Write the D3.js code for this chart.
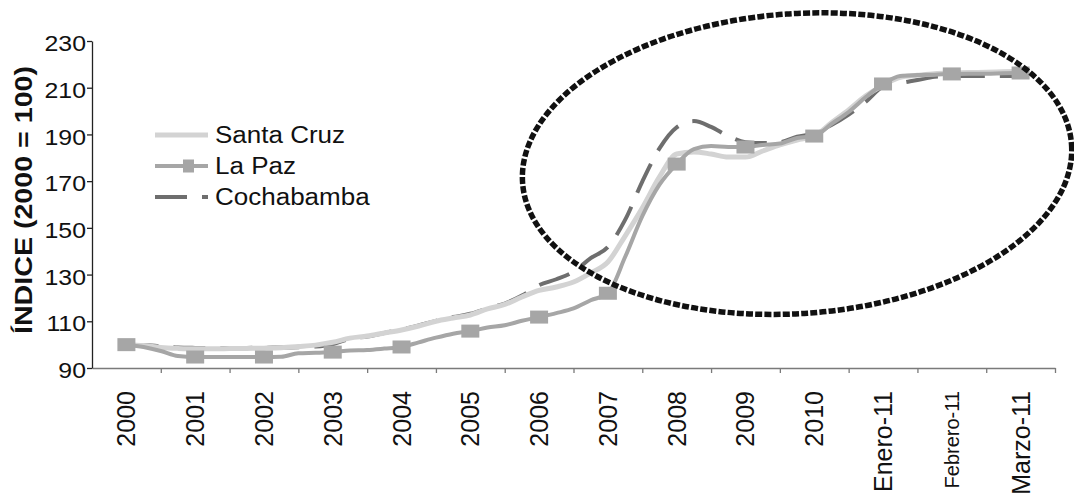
<!DOCTYPE html>
<html><head><meta charset="utf-8">
<script src="https://cdn.jsdelivr.net/npm/d3@7"></script>
<style>
body{margin:0;background:#fff}
svg{display:block;background:#fff}
text{font-family:"Liberation Sans",Arial,Helvetica,sans-serif;fill:#111}
</style>
</head><body>
<svg id="c" width="1074" height="503"></svg>
<script>
// ---------- DATA ----------
const categories = ["2000","2001","2002","2003","2004","2005","2006","2007","2008","2009","2010","Enero-11","Febrero-11","Marzo-11"];
const yTicks = [90,110,130,150,170,190,210,230];
const seriesNames = ["Santa Cruz","La Paz","Cochabamba"];
// positions along the category axis (quarter steps, category index units)
const steps = d3.range(0, 13.001, 0.25);
const santaCruz = [
  100, 99.6, 98.8, 98.4,
  98.2, 98.2, 98.3, 98.4,
  98.5, 98.7, 99.2, 99.8,
  101, 102.8, 103.7, 105,
  106.3, 108, 110, 111.4,
  112.7, 115.3, 117.2, 120.4,
  123.2, 124.7, 126.8, 130.7,
  135.4, 146.5, 158.5, 171.8,
  181.6, 182.5, 181.6, 180.3,
  180.3, 182.9, 185.5, 187.6,
  189.3, 195, 200.5, 206.5,
  211, 214.5, 215.3, 216,
  216.3, 216.5, 216.6, 216.8,
  217
];
const laPaz = [
  100, 99, 97.3, 95.1,
  94.7, 94.7, 94.7, 94.7,
  94.7, 94.8, 96.3, 96.5,
  96.8, 97.5, 97.7, 98.3,
  99, 101, 103, 104.7,
  105.8, 107.3, 108.3, 110.2,
  111.8, 113.5, 115.5, 119,
  122, 137.5, 155, 168.5,
  177.3, 183.7, 185, 184.6,
  184.6, 185.5, 186.1, 188.5,
  189.3, 194.5, 199.6, 206,
  211.6, 215, 215.4, 215.6,
  215.9, 216, 216, 216.2,
  216.3
];
const cochabamba = [
  100, 99.8, 99.3, 98.8,
  98.6, 98.5, 98.5, 98.6,
  98.7, 98.8, 98.9, 99.2,
  100.2, 102.5, 103.5, 105,
  106.5, 108.2, 110.2, 111.8,
  113.2, 115.5, 117.6, 121,
  125.5, 128, 131.2, 137,
  141.8, 153.4, 169.8, 184,
  193, 195.7, 193.2, 189.3,
  186.7, 186.3, 186.7, 189,
  190.5, 194, 198.5, 204,
  210.4, 212, 213.3, 214.7,
  215, 215, 215, 215,
  215
];
// highlighted region (category-index units / index units)
const highlightCenter = [9.75, 177.5];
const highlightRadius = [4.0, 64.2];
const highlightAngle = -4;

// ---------- CHART ----------
const svg = d3.select("#c");
const x = d3.scaleLinear().domain([-0.5, categories.length - 0.5]).range([92, 1055]);
const y = d3.scaleLinear().domain([90, 230]).range([368, 41]);

function stretch(sel, k) {
  sel.each(function () {
    const L = this.getComputedTextLength();
    this.setAttribute("textLength", L * k);
    this.setAttribute("lengthAdjust", "spacingAndGlyphs");
  });
}

// X axis (band boundaries)
const gx = svg.append("g").attr("transform", "translate(0,368)")
  .call(d3.axisBottom(x).tickValues(d3.range(0.5, categories.length, 1)).tickSize(5).tickSizeOuter(0).tickFormat(""));
gx.select(".domain").attr("stroke", "#7a7a7a").attr("stroke-width", 1.3);
gx.selectAll(".tick line").attr("stroke", "#7a7a7a").attr("stroke-width", 1.3);

svg.append("g").selectAll("text").data(categories).join("text")
  .attr("transform", (d, i) => `translate(${x(i)},391) rotate(-90)`)
  .attr("text-anchor", "end")
  .attr("dy", "0.36em")
  .style("font-size", d => d === "Febrero-11" ? "20px" : "25px")
  .text(d => d);

// Y axis
const gy = svg.append("g").attr("transform", "translate(92,0)")
  .call(d3.axisLeft(y).tickValues(yTicks).tickSize(5).tickSizeOuter(0).tickPadding(1));
gy.select(".domain").attr("stroke", "#222").attr("stroke-width", 1.3);
gy.selectAll(".tick line").attr("stroke", "#222").attr("stroke-width", 1.3);
gy.selectAll(".tick text").attr("dy", "0.44em").style("font-size", "22px")
  .style("font-family", '"Liberation Sans",Arial,sans-serif').attr("fill", "#111")
  .call(stretch, 1.13);

svg.append("text")
  .attr("transform", "translate(32,200) rotate(-90)")
  .attr("text-anchor", "middle")
  .style("font-size", "24px").style("font-weight", "bold")
  .attr("textLength", 268).attr("lengthAdjust", "spacingAndGlyphs")
  .text("ÍNDICE (2000 = 100)");

// Lines
const line = d3.line().x((d, i) => x(steps[i])).y(d => y(d)).curve(d3.curveMonotoneX);
const styles = {
  "Santa Cruz": {color: "#d3d3d3", width: 5, dash: null},
  "La Paz": {color: "#a6a6a6", width: 4, dash: null},
  "Cochabamba": {color: "#6e6e6e", width: 4, dash: "32,15"}
};
const seriesData = {"Santa Cruz": santaCruz, "La Paz": laPaz, "Cochabamba": cochabamba};
["Cochabamba", "Santa Cruz", "La Paz"].forEach(name => {
  const s = styles[name];
  svg.append("path").datum(seriesData[name])
    .attr("fill", "none").attr("stroke", s.color).attr("stroke-width", s.width)
    .attr("stroke-dasharray", s.dash).attr("stroke-linejoin", "round")
    .attr("d", line);
});
// La Paz markers at each category
const markerIdx = steps.map((t, i) => i).filter(i => steps[i] % 1 === 0);
svg.append("g").selectAll("rect").data(markerIdx).join("rect")
  .attr("x", i => x(steps[i]) - 9).attr("y", i => y(laPaz[i]) - 6.5)
  .attr("width", 18).attr("height", 13).attr("fill", "#a6a6a6");

// Highlight ellipse
const ecx = x(highlightCenter[0]), ecy = y(highlightCenter[1]);
svg.append("ellipse")
  .attr("cx", ecx).attr("cy", ecy)
  .attr("rx", x(highlightCenter[0] + highlightRadius[0]) - ecx)
  .attr("ry", y(highlightCenter[1] - highlightRadius[1]) - ecy)
  .attr("transform", `rotate(${highlightAngle},${ecx},${ecy})`)
  .attr("fill", "none").attr("stroke", "#111").attr("stroke-width", 5.5)
  .attr("stroke-dasharray", "7,2.2");

// Legend
const legendY = [135, 166, 197];
const lg = svg.append("g");
seriesNames.forEach((name, i) => {
  const s = styles[name];
  lg.append("line").attr("x1", 155).attr("x2", 208).attr("y1", legendY[i]).attr("y2", legendY[i])
    .attr("stroke", s.color).attr("stroke-width", s.width).attr("stroke-dasharray", s.dash);
  if (name === "La Paz") {
    lg.append("rect").attr("x", 183).attr("y", legendY[i] - 6.5).attr("width", 11).attr("height", 13).attr("fill", "#a6a6a6");
  }
  lg.append("text").attr("x", 215).attr("y", legendY[i]).attr("dy", "0.36em")
    .style("font-size", "23px").text(name).call(stretch, 1.13);
});
</script>
</body></html>
